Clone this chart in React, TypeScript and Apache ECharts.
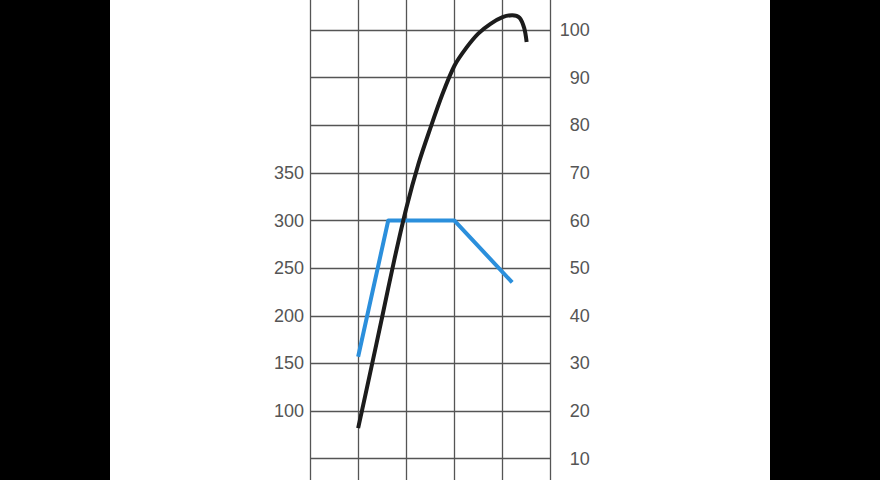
import { useEffect, useRef } from "react";
import * as echarts from "echarts";

// engine speed (rpm) grid: 1000..6000, labels are not drawn
const rpmTicks = [1000, 2000, 3000, 4000, 5000, 6000];

// power curve (right axis)
const powerRpm = [2000, 2250, 2500, 2750, 3000, 3250, 3500, 3750, 4000, 4250, 4500, 4750, 5000, 5200, 5350, 5450, 5500];
const powerValues = [16.4, 28.0, 39.8, 51.7, 62.6, 71.8, 79.4, 86.5, 92.5, 96.3, 99.3, 101.3, 102.7, 103.1, 102.6, 100.4, 97.5];

// torque curve (left axis)
const torqueRpm = [2000, 2625, 4000, 5200];
const torqueValues = [157, 300, 300, 235];

const leftLabels = [100, 150, 200, 250, 300, 350];
const rightLabels = [10, 20, 30, 40, 50, 60, 70, 80, 90, 100];

const labelFont = {
  color: "#555555",
  fontSize: 18,
  fontFamily: "Liberation Sans, Arial, sans-serif"
};

// the chart is drawn taller than the page and cropped, so the grid runs off both edges
const OVERHANG = 40;

export default function App() {
  const ref = useRef<HTMLDivElement | null>(null);

  useEffect(() => {
    if (!ref.current) {
      return;
    }
    const instance = echarts.init(ref.current, undefined, { renderer: "svg" });

    instance.setOption({
      animation: false,
      backgroundColor: "#ffffff",
      grid: { left: 200, right: 219.3, top: OVERHANG - 17.6, height: 523.9 },
      xAxis: {
        type: "value",
        min: rpmTicks[0],
        max: rpmTicks[rpmTicks.length - 1],
        interval: 1000,
        axisLine: { show: false },
        axisTick: { show: false },
        axisLabel: { show: false },
        splitLine: { show: true, lineStyle: { color: "#555555", width: 1.3 } }
      },
      yAxis: [
        {
          type: "value",
          position: "left",
          min: 0,
          max: 550,
          interval: 50,
          axisLine: { show: false },
          axisTick: { show: false },
          splitLine: { show: false },
          axisLabel: {
            ...labelFont,
            margin: 6,
            formatter: (v: number) => (leftLabels.includes(v) ? String(v) : "")
          }
        },
        {
          type: "value",
          position: "right",
          min: 0,
          max: 110,
          interval: 10,
          axisLine: { show: false },
          axisTick: { show: false },
          splitLine: { show: true, lineStyle: { color: "#555555", width: 1.3 } },
          axisLabel: {
            ...labelFont,
            align: "right",
            margin: 39,
            formatter: (v: number) => (rightLabels.includes(v) ? String(v) : "")
          }
        }
      ],
      series: [
        {
          name: "Drehmoment",
          type: "line",
          yAxisIndex: 0,
          data: torqueRpm.map((r, i) => [r, torqueValues[i]]),
          showSymbol: false,
          lineStyle: { color: "#2b8fdc", width: 4, join: "round" }
        },
        {
          name: "Leistung",
          type: "line",
          yAxisIndex: 1,
          data: powerRpm.map((r, i) => [r, powerValues[i]]),
          showSymbol: false,
          smooth: 0.3,
          lineStyle: { color: "#1c1c1c", width: 4 }
        }
      ]
    });

    return () => {
      instance.dispose();
    };
  }, []);

  return (
    <div
      style={{
        position: "fixed",
        left: 0,
        top: 0,
        width: 880,
        height: 480,
        background: "#000000",
        overflow: "hidden"
      }}
    >
      <div
        ref={ref}
        style={{ position: "absolute", left: 110, top: -OVERHANG, width: 660, height: 480 + 2 * OVERHANG }}
      />
    </div>
  );
}
